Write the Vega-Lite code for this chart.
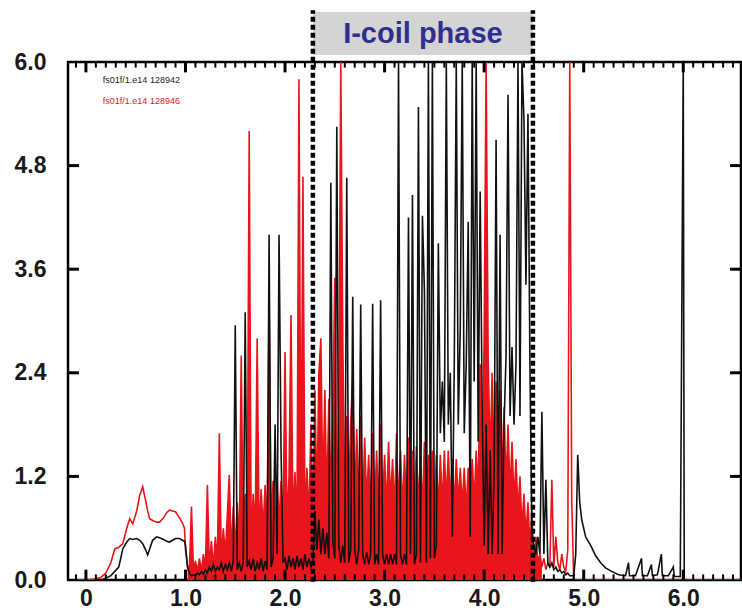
{
"$schema": "https://vega.github.io/schema/vega-lite/v6.json",
"width": 673, "height": 518,
"autosize": "none",
"padding": {"left": 68, "top": 62, "right": 1, "bottom": 35},
"background": "white",
"config": {
 "view": {"stroke": "black", "strokeWidth": 2.5},
 "axis": {"domain": false, "grid": false, "ticks": false, "title": null, "labelFont": "Liberation Sans", "labelFontWeight": "bold", "labelFontSize": 23, "labelColor": "#1a1a1a", "labelOverlap": false, "labelFlush": false}
},
"datasets": {
"xminor": [{"v":-0.1},{"v":0.1},{"v":0.2},{"v":0.3},{"v":0.4},{"v":0.5},{"v":0.6},{"v":0.7},{"v":0.8},{"v":0.9},{"v":1.1},{"v":1.2},{"v":1.3},{"v":1.4},{"v":1.5},{"v":1.6},{"v":1.7},{"v":1.8},{"v":1.9},{"v":2.1},{"v":2.2},{"v":2.3},{"v":2.4},{"v":2.5},{"v":2.6},{"v":2.7},{"v":2.8},{"v":2.9},{"v":3.1},{"v":3.2},{"v":3.3},{"v":3.4},{"v":3.5},{"v":3.6},{"v":3.7},{"v":3.8},{"v":3.9},{"v":4.1},{"v":4.2},{"v":4.3},{"v":4.4},{"v":4.5},{"v":4.6},{"v":4.7},{"v":4.8},{"v":4.9},{"v":5.1},{"v":5.2},{"v":5.3},{"v":5.4},{"v":5.5},{"v":5.6},{"v":5.7},{"v":5.8},{"v":5.9},{"v":6.1},{"v":6.2},{"v":6.3},{"v":6.4},{"v":6.5}],
"xmajor": [{"v":0},{"v":1},{"v":2},{"v":3},{"v":4},{"v":5},{"v":6}],
"ymajor": [{"v":1.2},{"v":2.4},{"v":3.6},{"v":4.8}],
"sig": [
{"t":-0.08,"r":0},{"t":0,"r":0},{"t":0.08,"r":0.01},{"t":0.15,"k":0,"r":0.03},{"t":0.2,"k":0.02,"r":0.08},{"t":0.25,"k":0.05,"r":0.2},{"t":0.29,"k":0.1,"r":0.36},{"t":0.33,"k":0.15,"r":0.38},{"t":0.37,"k":0.36,"r":0.42},{"t":0.41,"k":0.44,"r":0.6},{"t":0.44,"k":0.48,"r":0.71},{"t":0.47,"k":0.47,"r":0.65},{"t":0.51,"k":0.48,"r":0.8},{"t":0.54,"k":0.46,"r":0.98},{"t":0.57,"k":0.42,"r":1.08},{"t":0.6,"k":0.35,"r":0.92},{"t":0.62,"k":0.29,"r":0.8},{"t":0.64,"k":0.36,"r":0.71},{"t":0.67,"k":0.46,"r":0.69},{"t":0.71,"k":0.5,"r":0.67},{"t":0.74,"k":0.49,"r":0.67},{"t":0.78,"k":0.47,"r":0.72},{"t":0.81,"k":0.45,"r":0.78},{"t":0.84,"k":0.44,"r":0.81},{"t":0.87,"k":0.46,"r":0.8},{"t":0.9,"k":0.48,"r":0.79},{"t":0.94,"k":0.48,"r":0.72},{"t":0.97,"k":0.46,"r":0.66},{"t":0.99,"k":0.45,"r":0.6},
{"t":1.0,"k":0.4,"r":0.35},{"t":1.02,"k":0.15,"r":0.17},{"t":1.04,"k":0.08,"r":0.14},{"t":1.06,"k":0.05,"r":0.85},{"t":1.08,"k":0.06,"r":0.12},{"t":1.1,"k":0.05,"r":0.22},{"t":1.12,"k":0.08,"r":0.1},{"t":1.14,"k":0.06,"r":0.25},{"t":1.16,"k":0.1,"r":0.1},{"t":1.18,"k":0.07,"r":0.3},{"t":1.2,"k":0.12,"r":0.12},{"t":1.22,"k":0.08,"r":1.1},{"t":1.24,"k":0.15,"r":0.15},{"t":1.26,"k":0.1,"r":0.45},{"t":1.28,"k":0.18,"r":0.15},{"t":1.3,"k":0.1,"r":0.5},{"t":1.32,"k":0.15,"r":0.2},{"t":1.34,"k":0.12,"r":1.7},{"t":1.36,"k":0.2,"r":0.25},{"t":1.38,"k":0.1,"r":0.6},{"t":1.4,"k":0.18,"r":0.3},{"t":1.42,"k":0.12,"r":0.75},{"t":1.44,"k":0.2,"r":1.22},{"t":1.46,"k":0.1,"r":0.3},{"t":1.48,"k":0.22,"r":0.85},{"t":1.5,"k":2.95,"r":0.35},{"t":1.52,"k":0.12,"r":0.9},{"t":1.54,"k":0.2,"r":0.4},{"t":1.56,"k":0.1,"r":2.6},{"t":1.58,"k":0.2,"r":0.4},{"t":1.6,"k":3.1,"r":1.0},{"t":1.62,"k":0.15,"r":0.5},{"t":1.64,"k":0.22,"r":5.2},{"t":1.66,"k":0.12,"r":0.45},{"t":1.68,"k":0.25,"r":1.0},{"t":1.7,"k":0.1,"r":0.55},{"t":1.72,"k":0.2,"r":2.8},{"t":1.74,"k":0.12,"r":0.5},{"t":1.76,"k":0.25,"r":1.05},{"t":1.78,"k":0.1,"r":0.6},{"t":1.8,"k":0.22,"r":1.1},{"t":1.82,"k":0.12,"r":0.55},{"t":1.84,"k":4.0,"r":3.24},{"t":1.86,"k":0.15,"r":0.6},{"t":1.88,"k":0.25,"r":1.15},{"t":1.9,"k":1.8,"r":0.6},{"t":1.92,"k":0.3,"r":1.2},{"t":1.94,"k":4.0,"r":0.65},{"t":1.96,"k":1.5,"r":1.15},{"t":1.98,"k":0.2,"r":0.6},{"t":2.0,"k":0.25,"r":2.64},{"t":2.02,"k":0.12,"r":0.65},{"t":2.04,"k":0.28,"r":1.2},{"t":2.06,"k":0.15,"r":3.07},{"t":2.08,"k":0.25,"r":0.7},{"t":2.1,"k":0.12,"r":1.25},{"t":2.12,"k":0.28,"r":0.6},{"t":2.14,"k":0.15,"r":5.8},{"t":2.16,"k":0.25,"r":0.7},{"t":2.18,"k":0.12,"r":4.67},{"t":2.2,"k":0.3,"r":0.65},{"t":2.22,"k":0.15,"r":1.3},{"t":2.24,"k":0.25,"r":0.7},{"t":2.26,"k":0.15,"r":1.8},{"t":2.28,"k":0.2,"r":0.7},
{"t":2.3,"k":0.8,"r":2.2},{"t":2.32,"k":0.35,"r":0.9},{"t":2.34,"k":0.7,"r":2.4},{"t":2.36,"k":0.3,"r":2.8},{"t":2.38,"k":0.6,"r":1.0},{"t":2.4,"k":0.3,"r":2.2},{"t":2.42,"k":0.55,"r":0.9},{"t":2.44,"k":0.25,"r":2.1},{"t":2.46,"k":4.6,"r":1.0},{"t":2.48,"k":0.45,"r":2.0},{"t":2.5,"k":0.25,"r":3.5},{"t":2.52,"k":5.25,"r":0.9},{"t":2.54,"k":0.4,"r":1.9},{"t":2.56,"k":0.2,"r":6.0},{"t":2.58,"k":0.4,"r":2.8},{"t":2.6,"k":0.2,"r":0.9},{"t":2.62,"k":4.66,"r":1.9},{"t":2.64,"k":0.2,"r":1.0},{"t":2.66,"k":0.35,"r":1.85},{"t":2.68,"k":3.28,"r":2.3},{"t":2.7,"k":0.35,"r":0.85},{"t":2.72,"k":0.18,"r":1.75},{"t":2.74,"k":0.35,"r":0.9},{"t":2.76,"k":3.19,"r":1.9},{"t":2.78,"k":0.3,"r":0.8},{"t":2.8,"k":0.18,"r":1.65},{"t":2.82,"k":0.32,"r":0.9},{"t":2.84,"k":0.18,"r":1.45},{"t":2.86,"k":0.3,"r":0.8},{"t":2.88,"k":3.2,"r":1.7},{"t":2.9,"k":0.18,"r":0.85},{"t":2.92,"k":0.3,"r":1.5},{"t":2.94,"k":0.18,"r":0.8},{"t":2.96,"k":3.24,"r":1.8},{"t":2.98,"k":0.3,"r":0.85},{"t":3.0,"k":0.18,"r":1.45},{"t":3.02,"k":0.3,"r":0.8},{"t":3.04,"k":0.18,"r":1.6},{"t":3.06,"k":0.3,"r":0.9},{"t":3.08,"k":0.18,"r":1.4},{"t":3.1,"k":0.3,"r":0.8},{"t":3.12,"k":0.18,"r":1.7},{"t":3.14,"k":6.0,"r":0.85},{"t":3.16,"k":0.3,"r":1.5},{"t":3.18,"k":0.18,"r":0.8},{"t":3.2,"k":0.3,"r":1.45},{"t":3.22,"k":0.18,"r":0.85},{"t":3.24,"k":4.2,"r":1.65},{"t":3.26,"k":0.3,"r":0.8},{"t":3.28,"k":4.46,"r":1.5},{"t":3.3,"k":0.18,"r":0.9},{"t":3.32,"k":0.3,"r":1.55},{"t":3.34,"k":5.48,"r":0.85},{"t":3.36,"k":0.2,"r":1.45},{"t":3.38,"k":4.22,"r":0.8},{"t":3.4,"k":3.36,"r":1.6},{"t":3.42,"k":0.2,"r":0.85},{"t":3.44,"k":6.0,"r":1.45},{"t":3.46,"k":0.25,"r":0.9},{"t":3.48,"k":6.0,"r":1.5},{"t":3.5,"k":0.25,"r":0.85},{"t":3.52,"k":0.4,"r":1.45},{"t":3.54,"k":3.9,"r":0.8},{"t":3.56,"k":1.7,"r":1.45},{"t":3.58,"k":2.3,"r":0.85},{"t":3.6,"k":1.6,"r":1.5},{"t":3.62,"k":6.0,"r":0.9},{"t":3.64,"k":1.8,"r":1.5},{"t":3.66,"k":2.4,"r":0.9},{"t":3.68,"k":0.5,"r":1.4},{"t":3.7,"k":2.5,"r":0.85},{"t":3.72,"k":6.0,"r":1.4},{"t":3.74,"k":1.8,"r":0.9},{"t":3.76,"k":2.9,"r":1.3},{"t":3.78,"k":6.0,"r":0.85},{"t":3.8,"k":1.7,"r":1.3},{"t":3.82,"k":2.5,"r":0.8},{"t":3.84,"k":4.15,"r":1.3},{"t":3.86,"k":0.5,"r":0.85},{"t":3.88,"k":6.0,"r":1.4},{"t":3.9,"k":2.3,"r":0.9},{"t":3.92,"k":6.0,"r":1.5},{"t":3.94,"k":1.6,"r":1.0},{"t":3.96,"k":4.5,"r":2.5},{"t":3.98,"k":2.0,"r":1.2},{"t":4.0,"k":0.4,"r":2.8},{"t":4.02,"k":1.8,"r":6.0},{"t":4.04,"k":0.3,"r":2.6},{"t":4.06,"k":1.5,"r":1.4},{"t":4.08,"k":0.3,"r":2.4},{"t":4.1,"k":1.2,"r":1.3},{"t":4.12,"k":5.1,"r":2.3},{"t":4.14,"k":0.3,"r":1.3},{"t":4.16,"k":4.0,"r":2.2},{"t":4.18,"k":0.3,"r":1.2},{"t":4.2,"k":1.8,"r":2.0},{"t":4.22,"k":2.6,"r":1.1},{"t":4.24,"k":5.62,"r":1.8},{"t":4.26,"k":1.9,"r":1.0},{"t":4.28,"k":2.7,"r":1.6},{"t":4.3,"k":1.8,"r":0.9},{"t":4.32,"k":2.5,"r":1.4},{"t":4.34,"k":6.0,"r":0.8},{"t":4.36,"k":1.9,"r":1.2},{"t":4.38,"k":6.0,"r":0.6},{"t":4.4,"k":5.33,"r":1.0},{"t":4.42,"k":3.42,"r":0.5},{"t":4.44,"k":5.4,"r":0.9},{"t":4.46,"k":2.5,"r":0.4},{"t":4.48,"k":0.5,"r":0.8},{"t":4.5,"k":0.4,"r":0.2},{"t":4.52,"k":0.3,"r":0.5},{"t":4.54,"k":0.5,"r":0.2},{"t":4.56,"k":0.3,"r":0.3},{"t":4.58,"k":1.95,"r":0.15},{"t":4.6,"k":0.3,"r":0.25},{"t":4.62,"k":1.16,"r":0.12},{"t":4.64,"k":0.2,"r":0.2},{"t":4.66,"k":0.15,"r":0.15},{"t":4.68,"k":0.2,"r":1.16},{"t":4.7,"k":0.12,"r":0.15},{"t":4.72,"k":0.15,"r":0.5},{"t":4.74,"k":0.1,"r":0.2},{"t":4.76,"k":0.12,"r":0.12},{"t":4.78,"k":0.08,"r":0.3},{"t":4.8,"k":0.1,"r":0.15},{"t":4.82,"k":0.06,"r":0.1},{"t":4.84,"k":0.08,"r":0.35},{"t":4.86,"k":0.05,"r":6.0},{"t":4.88,"k":0.05,"r":0.9},{"t":4.9,"k":0.05,"r":0},{"t":4.92,"k":0.3,"r":0},{"t":4.94,"k":1.45,"r":0},{"t":4.96,"k":0.9,"r":0},{"t":4.98,"k":0.7,"r":0},{"t":5.02,"k":0.5,"r":0},{"t":5.07,"k":0.4,"r":0},{"t":5.12,"k":0.28,"r":0},{"t":5.17,"k":0.2,"r":0},{"t":5.22,"k":0.14,"r":0},{"t":5.28,"k":0.1,"r":0},{"t":5.35,"k":0.06,"r":0},{"t":5.42,"k":0.05,"r":0},{"t":5.45,"k":0.2,"r":0},{"t":5.46,"k":0.05,"r":0},{"t":5.52,"k":0.05,"r":0},{"t":5.58,"k":0.25,"r":0},{"t":5.59,"k":0.05,"r":0},{"t":5.64,"k":0.05,"r":0},{"t":5.68,"k":0.18,"r":0},{"t":5.69,"k":0.05,"r":0},{"t":5.74,"k":0.06,"r":0},{"t":5.78,"k":0.3,"r":0},{"t":5.79,"k":0.05,"r":0},{"t":5.85,"k":0.05,"r":0},{"t":5.9,"k":0.15,"r":0},{"t":5.91,"k":0.04,"r":0},{"t":5.97,"k":0.04,"r":0},{"t":6.0,"k":6.0,"r":0},{"t":6.01,"k":0,"r":0},{"t":6.3,"r":0},{"t":6.58,"r":0}
]
},
"data": {"name": "sig"},
"layer": [
 {
  "transform": [{"filter": "datum.t >= 1.02 && datum.t <= 4.58"}],
  "mark": {"type": "area", "color": "#e8161c", "clip": true},
  "encoding": {
   "x": {"field": "t", "type": "quantitative", "scale": {"domain": [-0.18, 6.58], "nice": false, "zero": false},
         "axis": {"orient": "bottom", "values": [0,1,2,3,4,5,6], "labelPadding": 7, "labelBaseline": "top",
                  "labelExpr": "datum.value == 0 ? '0' : format(datum.value, '.1f')"}},
   "y": {"field": "r", "type": "quantitative", "scale": {"domain": [0, 6], "nice": false},
         "axis": {"orient": "left", "values": [0,1.2,2.4,3.6,4.8,6], "format": ".1f", "labelPadding": 22}}
  }
 },
 {
  "mark": {"type": "line", "color": "#e8161c", "strokeWidth": 1.6, "clip": true},
  "encoding": {
   "x": {"field": "t", "type": "quantitative", "axis": null},
   "y": {"field": "r", "type": "quantitative", "axis": null}
  }
 },
 {
  "mark": {"type": "line", "color": "#111111", "strokeWidth": 1.6, "clip": true},
  "encoding": {
   "x": {"field": "t", "type": "quantitative", "axis": null},
   "y": {"field": "k", "type": "quantitative", "axis": null}
  }
 },
 {
  "data": {"name": "xminor"},
  "mark": {"type": "rule", "color": "black", "strokeWidth": 2, "clip": false},
  "encoding": {
   "x": {"field": "v", "type": "quantitative", "axis": null},
   "y": {"datum": 0, "type": "quantitative", "axis": null},
   "y2": {"datum": 0.065}
  }
 },
 {
  "data": {"name": "xminor"},
  "mark": {"type": "rule", "color": "black", "strokeWidth": 2, "clip": false},
  "encoding": {
   "x": {"field": "v", "type": "quantitative", "axis": null},
   "y": {"datum": 6, "type": "quantitative", "axis": null},
   "y2": {"datum": 5.935}
  }
 },
 {
  "data": {"name": "xmajor"},
  "mark": {"type": "rule", "color": "black", "strokeWidth": 3, "clip": false},
  "encoding": {
   "x": {"field": "v", "type": "quantitative", "axis": null},
   "y": {"datum": 0, "type": "quantitative", "axis": null},
   "y2": {"datum": 0.12}
  }
 },
 {
  "data": {"name": "xmajor"},
  "mark": {"type": "rule", "color": "black", "strokeWidth": 3, "clip": false},
  "encoding": {
   "x": {"field": "v", "type": "quantitative", "axis": null},
   "y": {"datum": 6, "type": "quantitative", "axis": null},
   "y2": {"datum": 5.88}
  }
 },
 {
  "data": {"name": "ymajor"},
  "mark": {"type": "rule", "color": "black", "strokeWidth": 3, "clip": false},
  "encoding": {
   "y": {"field": "v", "type": "quantitative", "axis": null},
   "x": {"datum": -0.18, "type": "quantitative", "axis": null},
   "x2": {"datum": -0.07}
  }
 },
 {
  "data": {"name": "ymajor"},
  "mark": {"type": "rule", "color": "black", "strokeWidth": 3, "clip": false},
  "encoding": {
   "y": {"field": "v", "type": "quantitative", "axis": null},
   "x": {"datum": 6.58, "type": "quantitative", "axis": null},
   "x2": {"datum": 6.47}
  }
 },
 {
  "data": {"values": [{"a": 2.28, "b": 4.49, "lo": 6.08, "hi": 6.58}]},
  "mark": {"type": "rect", "color": "#d4d4d4", "clip": false},
  "encoding": {
   "x": {"field": "a", "type": "quantitative", "axis": null},
   "x2": {"field": "b"},
   "y": {"field": "lo", "type": "quantitative", "axis": null},
   "y2": {"field": "hi"}
  }
 },
 {
  "data": {"values": [{"x": 3.385, "y": 6.33, "label": "I-coil phase"}]},
  "mark": {"type": "text", "font": "Liberation Sans", "fontWeight": "bold", "fontSize": 29, "color": "#2e2f8f", "align": "center", "baseline": "middle", "clip": false},
  "encoding": {
   "x": {"field": "x", "type": "quantitative", "axis": null},
   "y": {"field": "y", "type": "quantitative", "axis": null},
   "text": {"field": "label"}
  }
 },
 {
  "data": {"values": [{"x": 2.28, "lo": -0.02, "hi": 6.6}, {"x": 4.49, "lo": -0.02, "hi": 6.6}]},
  "mark": {"type": "rule", "color": "black", "strokeWidth": 4.5, "strokeDash": [5, 3], "clip": false},
  "encoding": {
   "x": {"field": "x", "type": "quantitative", "axis": null},
   "y": {"field": "lo", "type": "quantitative", "axis": null},
   "y2": {"field": "hi"}
  }
 },
 {
  "data": {"values": [{"x": 0.17, "y": 5.79, "label": "fs01f/1.e14  128942", "c": "#222222"}, {"x": 0.17, "y": 5.55, "label": "fs01f/1.e14  128946", "c": "#e8161c"}]},
  "mark": {"type": "text", "font": "Liberation Sans", "fontSize": 9, "align": "left", "baseline": "middle", "clip": false},
  "encoding": {
   "x": {"field": "x", "type": "quantitative", "axis": null},
   "y": {"field": "y", "type": "quantitative", "axis": null},
   "text": {"field": "label"},
   "color": {"field": "c", "type": "nominal", "scale": null}
  }
 }
],
"resolve": {"axis": {"x": "independent", "y": "independent"}}
}
